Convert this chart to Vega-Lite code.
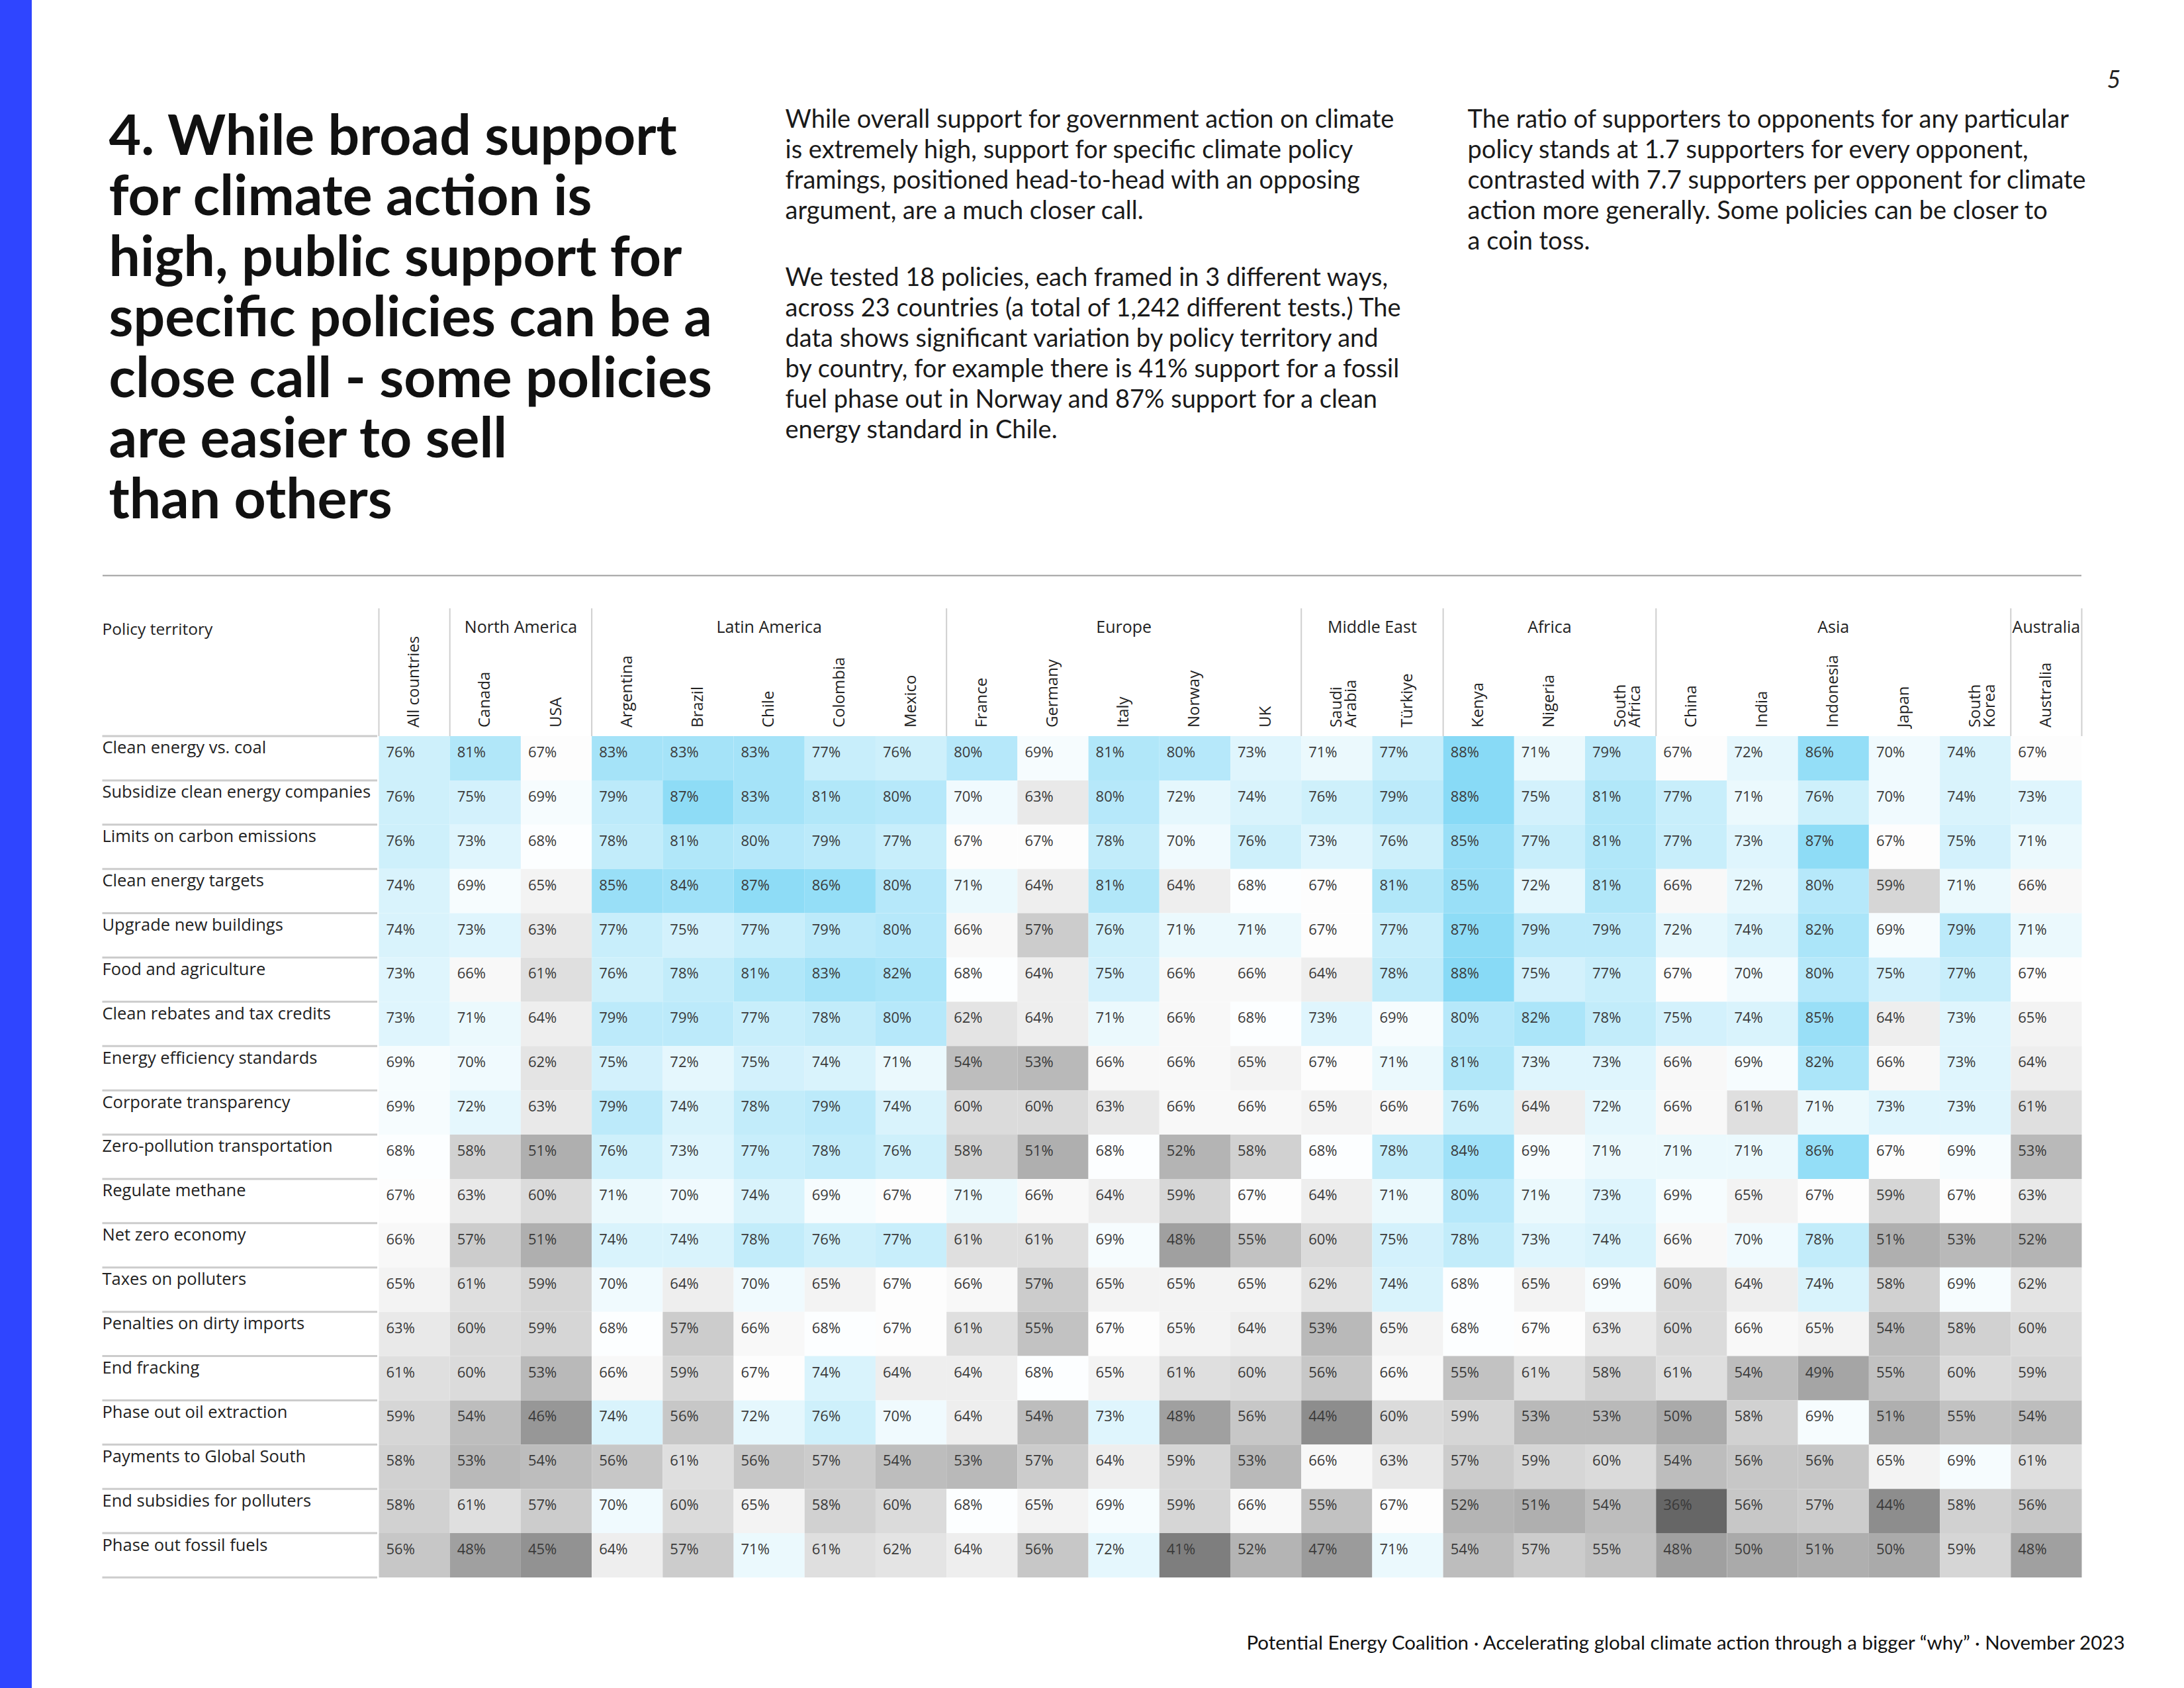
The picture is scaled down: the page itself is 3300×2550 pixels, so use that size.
{
"$schema": "https://vega.github.io/schema/vega-lite/v6.json",
"background": "white",
"padding": 0,
"autosize": {"type": "pad"},
"config": {"view": {"stroke": null}, "text": {"font": "Lato"}},
"datasets": {
"texts": [
{"block": "title", "kind": "title", "text": "4.  While broad support\nfor climate action is\nhigh, public support for\nspecific policies can be a\nclose call - some policies\nare easier to sell\nthan others"},
{"block": "body", "kind": "body", "text": "While overall support for government action on climate\nis extremely high, support for specific climate policy\nframings, positioned head-to-head with an opposing\nargument, are a much closer call."},
{"block": "body", "kind": "body2", "text": "We tested 18 policies, each framed in 3 different ways,\nacross 23 countries (a total of 1,242 different tests.) The\ndata shows significant variation by policy territory and\nby country, for example there is 41% support for a fossil\nfuel phase out in Norway and 87% support for a clean\nenergy standard in Chile."},
{"block": "ratio", "kind": "body", "text": "The ratio of supporters to opponents for any particular\npolicy stands at 1.7 supporters for every opponent,\ncontrasted with 7.7 supporters per opponent for climate\naction more generally.  Some policies can be closer to\na coin toss."},
{"block": "ratio", "kind": "page", "text": "5"}
],
"countries": [
{"country": "All countries", "label": "All countries"},
{"country": "Canada", "label": "Canada"},
{"country": "USA", "label": "USA"},
{"country": "Argentina", "label": "Argentina"},
{"country": "Brazil", "label": "Brazil"},
{"country": "Chile", "label": "Chile"},
{"country": "Colombia", "label": "Colombia"},
{"country": "Mexico", "label": "Mexico"},
{"country": "France", "label": "France"},
{"country": "Germany", "label": "Germany"},
{"country": "Italy", "label": "Italy"},
{"country": "Norway", "label": "Norway"},
{"country": "UK", "label": "UK"},
{"country": "Saudi Arabia", "label": "Saudi\nArabia"},
{"country": "Türkiye", "label": "Türkiye"},
{"country": "Kenya", "label": "Kenya"},
{"country": "Nigeria", "label": "Nigeria"},
{"country": "South Africa", "label": "South\nAfrica"},
{"country": "China", "label": "China"},
{"country": "India", "label": "India"},
{"country": "Indonesia", "label": "Indonesia"},
{"country": "Japan", "label": "Japan"},
{"country": "South Korea", "label": "South\nKorea"},
{"country": "Australia", "label": "Australia"}
],
"regions": [
{"region": "North America", "first": "Canada", "mid": "USA"},
{"region": "Latin America", "first": "Argentina", "mid": "Chile"},
{"region": "Europe", "first": "France", "mid": "Italy"},
{"region": "Middle East", "first": "Saudi Arabia", "mid": "Türkiye"},
{"region": "Africa", "first": "Kenya", "mid": "Nigeria"},
{"region": "Asia", "first": "China", "mid": "Indonesia"},
{"region": "Australia", "first": "Australia", "mid": "Australia"}
],
"policies": [
{"policy": "Clean energy vs. coal"},
{"policy": "Subsidize clean energy companies"},
{"policy": "Limits on carbon emissions"},
{"policy": "Clean energy targets"},
{"policy": "Upgrade new buildings"},
{"policy": "Food and agriculture"},
{"policy": "Clean rebates and tax credits"},
{"policy": "Energy efficiency standards"},
{"policy": "Corporate transparency"},
{"policy": "Zero-pollution transportation"},
{"policy": "Regulate methane"},
{"policy": "Net zero economy"},
{"policy": "Taxes on polluters"},
{"policy": "Penalties on dirty imports"},
{"policy": "End fracking"},
{"policy": "Phase out oil extraction"},
{"policy": "Payments to Global South"},
{"policy": "End subsidies for polluters"},
{"policy": "Phase out fossil fuels"}
],
"cells": [
{"policy":"Clean energy vs. coal","country":"All countries","value":0.76},
{"policy":"Clean energy vs. coal","country":"Canada","value":0.81},
{"policy":"Clean energy vs. coal","country":"USA","value":0.67},
{"policy":"Clean energy vs. coal","country":"Argentina","value":0.83},
{"policy":"Clean energy vs. coal","country":"Brazil","value":0.83},
{"policy":"Clean energy vs. coal","country":"Chile","value":0.83},
{"policy":"Clean energy vs. coal","country":"Colombia","value":0.77},
{"policy":"Clean energy vs. coal","country":"Mexico","value":0.76},
{"policy":"Clean energy vs. coal","country":"France","value":0.80},
{"policy":"Clean energy vs. coal","country":"Germany","value":0.69},
{"policy":"Clean energy vs. coal","country":"Italy","value":0.81},
{"policy":"Clean energy vs. coal","country":"Norway","value":0.80},
{"policy":"Clean energy vs. coal","country":"UK","value":0.73},
{"policy":"Clean energy vs. coal","country":"Saudi Arabia","value":0.71},
{"policy":"Clean energy vs. coal","country":"Türkiye","value":0.77},
{"policy":"Clean energy vs. coal","country":"Kenya","value":0.88},
{"policy":"Clean energy vs. coal","country":"Nigeria","value":0.71},
{"policy":"Clean energy vs. coal","country":"South Africa","value":0.79},
{"policy":"Clean energy vs. coal","country":"China","value":0.67},
{"policy":"Clean energy vs. coal","country":"India","value":0.72},
{"policy":"Clean energy vs. coal","country":"Indonesia","value":0.86},
{"policy":"Clean energy vs. coal","country":"Japan","value":0.70},
{"policy":"Clean energy vs. coal","country":"South Korea","value":0.74},
{"policy":"Clean energy vs. coal","country":"Australia","value":0.67},
{"policy":"Subsidize clean energy companies","country":"All countries","value":0.76},
{"policy":"Subsidize clean energy companies","country":"Canada","value":0.75},
{"policy":"Subsidize clean energy companies","country":"USA","value":0.69},
{"policy":"Subsidize clean energy companies","country":"Argentina","value":0.79},
{"policy":"Subsidize clean energy companies","country":"Brazil","value":0.87},
{"policy":"Subsidize clean energy companies","country":"Chile","value":0.83},
{"policy":"Subsidize clean energy companies","country":"Colombia","value":0.81},
{"policy":"Subsidize clean energy companies","country":"Mexico","value":0.80},
{"policy":"Subsidize clean energy companies","country":"France","value":0.70},
{"policy":"Subsidize clean energy companies","country":"Germany","value":0.63},
{"policy":"Subsidize clean energy companies","country":"Italy","value":0.80},
{"policy":"Subsidize clean energy companies","country":"Norway","value":0.72},
{"policy":"Subsidize clean energy companies","country":"UK","value":0.74},
{"policy":"Subsidize clean energy companies","country":"Saudi Arabia","value":0.76},
{"policy":"Subsidize clean energy companies","country":"Türkiye","value":0.79},
{"policy":"Subsidize clean energy companies","country":"Kenya","value":0.88},
{"policy":"Subsidize clean energy companies","country":"Nigeria","value":0.75},
{"policy":"Subsidize clean energy companies","country":"South Africa","value":0.81},
{"policy":"Subsidize clean energy companies","country":"China","value":0.77},
{"policy":"Subsidize clean energy companies","country":"India","value":0.71},
{"policy":"Subsidize clean energy companies","country":"Indonesia","value":0.76},
{"policy":"Subsidize clean energy companies","country":"Japan","value":0.70},
{"policy":"Subsidize clean energy companies","country":"South Korea","value":0.74},
{"policy":"Subsidize clean energy companies","country":"Australia","value":0.73},
{"policy":"Limits on carbon emissions","country":"All countries","value":0.76},
{"policy":"Limits on carbon emissions","country":"Canada","value":0.73},
{"policy":"Limits on carbon emissions","country":"USA","value":0.68},
{"policy":"Limits on carbon emissions","country":"Argentina","value":0.78},
{"policy":"Limits on carbon emissions","country":"Brazil","value":0.81},
{"policy":"Limits on carbon emissions","country":"Chile","value":0.80},
{"policy":"Limits on carbon emissions","country":"Colombia","value":0.79},
{"policy":"Limits on carbon emissions","country":"Mexico","value":0.77},
{"policy":"Limits on carbon emissions","country":"France","value":0.67},
{"policy":"Limits on carbon emissions","country":"Germany","value":0.67},
{"policy":"Limits on carbon emissions","country":"Italy","value":0.78},
{"policy":"Limits on carbon emissions","country":"Norway","value":0.70},
{"policy":"Limits on carbon emissions","country":"UK","value":0.76},
{"policy":"Limits on carbon emissions","country":"Saudi Arabia","value":0.73},
{"policy":"Limits on carbon emissions","country":"Türkiye","value":0.76},
{"policy":"Limits on carbon emissions","country":"Kenya","value":0.85},
{"policy":"Limits on carbon emissions","country":"Nigeria","value":0.77},
{"policy":"Limits on carbon emissions","country":"South Africa","value":0.81},
{"policy":"Limits on carbon emissions","country":"China","value":0.77},
{"policy":"Limits on carbon emissions","country":"India","value":0.73},
{"policy":"Limits on carbon emissions","country":"Indonesia","value":0.87},
{"policy":"Limits on carbon emissions","country":"Japan","value":0.67},
{"policy":"Limits on carbon emissions","country":"South Korea","value":0.75},
{"policy":"Limits on carbon emissions","country":"Australia","value":0.71},
{"policy":"Clean energy targets","country":"All countries","value":0.74},
{"policy":"Clean energy targets","country":"Canada","value":0.69},
{"policy":"Clean energy targets","country":"USA","value":0.65},
{"policy":"Clean energy targets","country":"Argentina","value":0.85},
{"policy":"Clean energy targets","country":"Brazil","value":0.84},
{"policy":"Clean energy targets","country":"Chile","value":0.87},
{"policy":"Clean energy targets","country":"Colombia","value":0.86},
{"policy":"Clean energy targets","country":"Mexico","value":0.80},
{"policy":"Clean energy targets","country":"France","value":0.71},
{"policy":"Clean energy targets","country":"Germany","value":0.64},
{"policy":"Clean energy targets","country":"Italy","value":0.81},
{"policy":"Clean energy targets","country":"Norway","value":0.64},
{"policy":"Clean energy targets","country":"UK","value":0.68},
{"policy":"Clean energy targets","country":"Saudi Arabia","value":0.67},
{"policy":"Clean energy targets","country":"Türkiye","value":0.81},
{"policy":"Clean energy targets","country":"Kenya","value":0.85},
{"policy":"Clean energy targets","country":"Nigeria","value":0.72},
{"policy":"Clean energy targets","country":"South Africa","value":0.81},
{"policy":"Clean energy targets","country":"China","value":0.66},
{"policy":"Clean energy targets","country":"India","value":0.72},
{"policy":"Clean energy targets","country":"Indonesia","value":0.80},
{"policy":"Clean energy targets","country":"Japan","value":0.59},
{"policy":"Clean energy targets","country":"South Korea","value":0.71},
{"policy":"Clean energy targets","country":"Australia","value":0.66},
{"policy":"Upgrade new buildings","country":"All countries","value":0.74},
{"policy":"Upgrade new buildings","country":"Canada","value":0.73},
{"policy":"Upgrade new buildings","country":"USA","value":0.63},
{"policy":"Upgrade new buildings","country":"Argentina","value":0.77},
{"policy":"Upgrade new buildings","country":"Brazil","value":0.75},
{"policy":"Upgrade new buildings","country":"Chile","value":0.77},
{"policy":"Upgrade new buildings","country":"Colombia","value":0.79},
{"policy":"Upgrade new buildings","country":"Mexico","value":0.80},
{"policy":"Upgrade new buildings","country":"France","value":0.66},
{"policy":"Upgrade new buildings","country":"Germany","value":0.57},
{"policy":"Upgrade new buildings","country":"Italy","value":0.76},
{"policy":"Upgrade new buildings","country":"Norway","value":0.71},
{"policy":"Upgrade new buildings","country":"UK","value":0.71},
{"policy":"Upgrade new buildings","country":"Saudi Arabia","value":0.67},
{"policy":"Upgrade new buildings","country":"Türkiye","value":0.77},
{"policy":"Upgrade new buildings","country":"Kenya","value":0.87},
{"policy":"Upgrade new buildings","country":"Nigeria","value":0.79},
{"policy":"Upgrade new buildings","country":"South Africa","value":0.79},
{"policy":"Upgrade new buildings","country":"China","value":0.72},
{"policy":"Upgrade new buildings","country":"India","value":0.74},
{"policy":"Upgrade new buildings","country":"Indonesia","value":0.82},
{"policy":"Upgrade new buildings","country":"Japan","value":0.69},
{"policy":"Upgrade new buildings","country":"South Korea","value":0.79},
{"policy":"Upgrade new buildings","country":"Australia","value":0.71},
{"policy":"Food and agriculture","country":"All countries","value":0.73},
{"policy":"Food and agriculture","country":"Canada","value":0.66},
{"policy":"Food and agriculture","country":"USA","value":0.61},
{"policy":"Food and agriculture","country":"Argentina","value":0.76},
{"policy":"Food and agriculture","country":"Brazil","value":0.78},
{"policy":"Food and agriculture","country":"Chile","value":0.81},
{"policy":"Food and agriculture","country":"Colombia","value":0.83},
{"policy":"Food and agriculture","country":"Mexico","value":0.82},
{"policy":"Food and agriculture","country":"France","value":0.68},
{"policy":"Food and agriculture","country":"Germany","value":0.64},
{"policy":"Food and agriculture","country":"Italy","value":0.75},
{"policy":"Food and agriculture","country":"Norway","value":0.66},
{"policy":"Food and agriculture","country":"UK","value":0.66},
{"policy":"Food and agriculture","country":"Saudi Arabia","value":0.64},
{"policy":"Food and agriculture","country":"Türkiye","value":0.78},
{"policy":"Food and agriculture","country":"Kenya","value":0.88},
{"policy":"Food and agriculture","country":"Nigeria","value":0.75},
{"policy":"Food and agriculture","country":"South Africa","value":0.77},
{"policy":"Food and agriculture","country":"China","value":0.67},
{"policy":"Food and agriculture","country":"India","value":0.70},
{"policy":"Food and agriculture","country":"Indonesia","value":0.80},
{"policy":"Food and agriculture","country":"Japan","value":0.75},
{"policy":"Food and agriculture","country":"South Korea","value":0.77},
{"policy":"Food and agriculture","country":"Australia","value":0.67},
{"policy":"Clean rebates and tax credits","country":"All countries","value":0.73},
{"policy":"Clean rebates and tax credits","country":"Canada","value":0.71},
{"policy":"Clean rebates and tax credits","country":"USA","value":0.64},
{"policy":"Clean rebates and tax credits","country":"Argentina","value":0.79},
{"policy":"Clean rebates and tax credits","country":"Brazil","value":0.79},
{"policy":"Clean rebates and tax credits","country":"Chile","value":0.77},
{"policy":"Clean rebates and tax credits","country":"Colombia","value":0.78},
{"policy":"Clean rebates and tax credits","country":"Mexico","value":0.80},
{"policy":"Clean rebates and tax credits","country":"France","value":0.62},
{"policy":"Clean rebates and tax credits","country":"Germany","value":0.64},
{"policy":"Clean rebates and tax credits","country":"Italy","value":0.71},
{"policy":"Clean rebates and tax credits","country":"Norway","value":0.66},
{"policy":"Clean rebates and tax credits","country":"UK","value":0.68},
{"policy":"Clean rebates and tax credits","country":"Saudi Arabia","value":0.73},
{"policy":"Clean rebates and tax credits","country":"Türkiye","value":0.69},
{"policy":"Clean rebates and tax credits","country":"Kenya","value":0.80},
{"policy":"Clean rebates and tax credits","country":"Nigeria","value":0.82},
{"policy":"Clean rebates and tax credits","country":"South Africa","value":0.78},
{"policy":"Clean rebates and tax credits","country":"China","value":0.75},
{"policy":"Clean rebates and tax credits","country":"India","value":0.74},
{"policy":"Clean rebates and tax credits","country":"Indonesia","value":0.85},
{"policy":"Clean rebates and tax credits","country":"Japan","value":0.64},
{"policy":"Clean rebates and tax credits","country":"South Korea","value":0.73},
{"policy":"Clean rebates and tax credits","country":"Australia","value":0.65},
{"policy":"Energy efficiency standards","country":"All countries","value":0.69},
{"policy":"Energy efficiency standards","country":"Canada","value":0.70},
{"policy":"Energy efficiency standards","country":"USA","value":0.62},
{"policy":"Energy efficiency standards","country":"Argentina","value":0.75},
{"policy":"Energy efficiency standards","country":"Brazil","value":0.72},
{"policy":"Energy efficiency standards","country":"Chile","value":0.75},
{"policy":"Energy efficiency standards","country":"Colombia","value":0.74},
{"policy":"Energy efficiency standards","country":"Mexico","value":0.71},
{"policy":"Energy efficiency standards","country":"France","value":0.54},
{"policy":"Energy efficiency standards","country":"Germany","value":0.53},
{"policy":"Energy efficiency standards","country":"Italy","value":0.66},
{"policy":"Energy efficiency standards","country":"Norway","value":0.66},
{"policy":"Energy efficiency standards","country":"UK","value":0.65},
{"policy":"Energy efficiency standards","country":"Saudi Arabia","value":0.67},
{"policy":"Energy efficiency standards","country":"Türkiye","value":0.71},
{"policy":"Energy efficiency standards","country":"Kenya","value":0.81},
{"policy":"Energy efficiency standards","country":"Nigeria","value":0.73},
{"policy":"Energy efficiency standards","country":"South Africa","value":0.73},
{"policy":"Energy efficiency standards","country":"China","value":0.66},
{"policy":"Energy efficiency standards","country":"India","value":0.69},
{"policy":"Energy efficiency standards","country":"Indonesia","value":0.82},
{"policy":"Energy efficiency standards","country":"Japan","value":0.66},
{"policy":"Energy efficiency standards","country":"South Korea","value":0.73},
{"policy":"Energy efficiency standards","country":"Australia","value":0.64},
{"policy":"Corporate transparency","country":"All countries","value":0.69},
{"policy":"Corporate transparency","country":"Canada","value":0.72},
{"policy":"Corporate transparency","country":"USA","value":0.63},
{"policy":"Corporate transparency","country":"Argentina","value":0.79},
{"policy":"Corporate transparency","country":"Brazil","value":0.74},
{"policy":"Corporate transparency","country":"Chile","value":0.78},
{"policy":"Corporate transparency","country":"Colombia","value":0.79},
{"policy":"Corporate transparency","country":"Mexico","value":0.74},
{"policy":"Corporate transparency","country":"France","value":0.60},
{"policy":"Corporate transparency","country":"Germany","value":0.60},
{"policy":"Corporate transparency","country":"Italy","value":0.63},
{"policy":"Corporate transparency","country":"Norway","value":0.66},
{"policy":"Corporate transparency","country":"UK","value":0.66},
{"policy":"Corporate transparency","country":"Saudi Arabia","value":0.65},
{"policy":"Corporate transparency","country":"Türkiye","value":0.66},
{"policy":"Corporate transparency","country":"Kenya","value":0.76},
{"policy":"Corporate transparency","country":"Nigeria","value":0.64},
{"policy":"Corporate transparency","country":"South Africa","value":0.72},
{"policy":"Corporate transparency","country":"China","value":0.66},
{"policy":"Corporate transparency","country":"India","value":0.61},
{"policy":"Corporate transparency","country":"Indonesia","value":0.71},
{"policy":"Corporate transparency","country":"Japan","value":0.73},
{"policy":"Corporate transparency","country":"South Korea","value":0.73},
{"policy":"Corporate transparency","country":"Australia","value":0.61},
{"policy":"Zero-pollution transportation","country":"All countries","value":0.68},
{"policy":"Zero-pollution transportation","country":"Canada","value":0.58},
{"policy":"Zero-pollution transportation","country":"USA","value":0.51},
{"policy":"Zero-pollution transportation","country":"Argentina","value":0.76},
{"policy":"Zero-pollution transportation","country":"Brazil","value":0.73},
{"policy":"Zero-pollution transportation","country":"Chile","value":0.77},
{"policy":"Zero-pollution transportation","country":"Colombia","value":0.78},
{"policy":"Zero-pollution transportation","country":"Mexico","value":0.76},
{"policy":"Zero-pollution transportation","country":"France","value":0.58},
{"policy":"Zero-pollution transportation","country":"Germany","value":0.51},
{"policy":"Zero-pollution transportation","country":"Italy","value":0.68},
{"policy":"Zero-pollution transportation","country":"Norway","value":0.52},
{"policy":"Zero-pollution transportation","country":"UK","value":0.58},
{"policy":"Zero-pollution transportation","country":"Saudi Arabia","value":0.68},
{"policy":"Zero-pollution transportation","country":"Türkiye","value":0.78},
{"policy":"Zero-pollution transportation","country":"Kenya","value":0.84},
{"policy":"Zero-pollution transportation","country":"Nigeria","value":0.69},
{"policy":"Zero-pollution transportation","country":"South Africa","value":0.71},
{"policy":"Zero-pollution transportation","country":"China","value":0.71},
{"policy":"Zero-pollution transportation","country":"India","value":0.71},
{"policy":"Zero-pollution transportation","country":"Indonesia","value":0.86},
{"policy":"Zero-pollution transportation","country":"Japan","value":0.67},
{"policy":"Zero-pollution transportation","country":"South Korea","value":0.69},
{"policy":"Zero-pollution transportation","country":"Australia","value":0.53},
{"policy":"Regulate methane","country":"All countries","value":0.67},
{"policy":"Regulate methane","country":"Canada","value":0.63},
{"policy":"Regulate methane","country":"USA","value":0.60},
{"policy":"Regulate methane","country":"Argentina","value":0.71},
{"policy":"Regulate methane","country":"Brazil","value":0.70},
{"policy":"Regulate methane","country":"Chile","value":0.74},
{"policy":"Regulate methane","country":"Colombia","value":0.69},
{"policy":"Regulate methane","country":"Mexico","value":0.67},
{"policy":"Regulate methane","country":"France","value":0.71},
{"policy":"Regulate methane","country":"Germany","value":0.66},
{"policy":"Regulate methane","country":"Italy","value":0.64},
{"policy":"Regulate methane","country":"Norway","value":0.59},
{"policy":"Regulate methane","country":"UK","value":0.67},
{"policy":"Regulate methane","country":"Saudi Arabia","value":0.64},
{"policy":"Regulate methane","country":"Türkiye","value":0.71},
{"policy":"Regulate methane","country":"Kenya","value":0.80},
{"policy":"Regulate methane","country":"Nigeria","value":0.71},
{"policy":"Regulate methane","country":"South Africa","value":0.73},
{"policy":"Regulate methane","country":"China","value":0.69},
{"policy":"Regulate methane","country":"India","value":0.65},
{"policy":"Regulate methane","country":"Indonesia","value":0.67},
{"policy":"Regulate methane","country":"Japan","value":0.59},
{"policy":"Regulate methane","country":"South Korea","value":0.67},
{"policy":"Regulate methane","country":"Australia","value":0.63},
{"policy":"Net zero economy","country":"All countries","value":0.66},
{"policy":"Net zero economy","country":"Canada","value":0.57},
{"policy":"Net zero economy","country":"USA","value":0.51},
{"policy":"Net zero economy","country":"Argentina","value":0.74},
{"policy":"Net zero economy","country":"Brazil","value":0.74},
{"policy":"Net zero economy","country":"Chile","value":0.78},
{"policy":"Net zero economy","country":"Colombia","value":0.76},
{"policy":"Net zero economy","country":"Mexico","value":0.77},
{"policy":"Net zero economy","country":"France","value":0.61},
{"policy":"Net zero economy","country":"Germany","value":0.61},
{"policy":"Net zero economy","country":"Italy","value":0.69},
{"policy":"Net zero economy","country":"Norway","value":0.48},
{"policy":"Net zero economy","country":"UK","value":0.55},
{"policy":"Net zero economy","country":"Saudi Arabia","value":0.60},
{"policy":"Net zero economy","country":"Türkiye","value":0.75},
{"policy":"Net zero economy","country":"Kenya","value":0.78},
{"policy":"Net zero economy","country":"Nigeria","value":0.73},
{"policy":"Net zero economy","country":"South Africa","value":0.74},
{"policy":"Net zero economy","country":"China","value":0.66},
{"policy":"Net zero economy","country":"India","value":0.70},
{"policy":"Net zero economy","country":"Indonesia","value":0.78},
{"policy":"Net zero economy","country":"Japan","value":0.51},
{"policy":"Net zero economy","country":"South Korea","value":0.53},
{"policy":"Net zero economy","country":"Australia","value":0.52},
{"policy":"Taxes on polluters","country":"All countries","value":0.65},
{"policy":"Taxes on polluters","country":"Canada","value":0.61},
{"policy":"Taxes on polluters","country":"USA","value":0.59},
{"policy":"Taxes on polluters","country":"Argentina","value":0.70},
{"policy":"Taxes on polluters","country":"Brazil","value":0.64},
{"policy":"Taxes on polluters","country":"Chile","value":0.70},
{"policy":"Taxes on polluters","country":"Colombia","value":0.65},
{"policy":"Taxes on polluters","country":"Mexico","value":0.67},
{"policy":"Taxes on polluters","country":"France","value":0.66},
{"policy":"Taxes on polluters","country":"Germany","value":0.57},
{"policy":"Taxes on polluters","country":"Italy","value":0.65},
{"policy":"Taxes on polluters","country":"Norway","value":0.65},
{"policy":"Taxes on polluters","country":"UK","value":0.65},
{"policy":"Taxes on polluters","country":"Saudi Arabia","value":0.62},
{"policy":"Taxes on polluters","country":"Türkiye","value":0.74},
{"policy":"Taxes on polluters","country":"Kenya","value":0.68},
{"policy":"Taxes on polluters","country":"Nigeria","value":0.65},
{"policy":"Taxes on polluters","country":"South Africa","value":0.69},
{"policy":"Taxes on polluters","country":"China","value":0.60},
{"policy":"Taxes on polluters","country":"India","value":0.64},
{"policy":"Taxes on polluters","country":"Indonesia","value":0.74},
{"policy":"Taxes on polluters","country":"Japan","value":0.58},
{"policy":"Taxes on polluters","country":"South Korea","value":0.69},
{"policy":"Taxes on polluters","country":"Australia","value":0.62},
{"policy":"Penalties on dirty imports","country":"All countries","value":0.63},
{"policy":"Penalties on dirty imports","country":"Canada","value":0.60},
{"policy":"Penalties on dirty imports","country":"USA","value":0.59},
{"policy":"Penalties on dirty imports","country":"Argentina","value":0.68},
{"policy":"Penalties on dirty imports","country":"Brazil","value":0.57},
{"policy":"Penalties on dirty imports","country":"Chile","value":0.66},
{"policy":"Penalties on dirty imports","country":"Colombia","value":0.68},
{"policy":"Penalties on dirty imports","country":"Mexico","value":0.67},
{"policy":"Penalties on dirty imports","country":"France","value":0.61},
{"policy":"Penalties on dirty imports","country":"Germany","value":0.55},
{"policy":"Penalties on dirty imports","country":"Italy","value":0.67},
{"policy":"Penalties on dirty imports","country":"Norway","value":0.65},
{"policy":"Penalties on dirty imports","country":"UK","value":0.64},
{"policy":"Penalties on dirty imports","country":"Saudi Arabia","value":0.53},
{"policy":"Penalties on dirty imports","country":"Türkiye","value":0.65},
{"policy":"Penalties on dirty imports","country":"Kenya","value":0.68},
{"policy":"Penalties on dirty imports","country":"Nigeria","value":0.67},
{"policy":"Penalties on dirty imports","country":"South Africa","value":0.63},
{"policy":"Penalties on dirty imports","country":"China","value":0.60},
{"policy":"Penalties on dirty imports","country":"India","value":0.66},
{"policy":"Penalties on dirty imports","country":"Indonesia","value":0.65},
{"policy":"Penalties on dirty imports","country":"Japan","value":0.54},
{"policy":"Penalties on dirty imports","country":"South Korea","value":0.58},
{"policy":"Penalties on dirty imports","country":"Australia","value":0.60},
{"policy":"End fracking","country":"All countries","value":0.61},
{"policy":"End fracking","country":"Canada","value":0.60},
{"policy":"End fracking","country":"USA","value":0.53},
{"policy":"End fracking","country":"Argentina","value":0.66},
{"policy":"End fracking","country":"Brazil","value":0.59},
{"policy":"End fracking","country":"Chile","value":0.67},
{"policy":"End fracking","country":"Colombia","value":0.74},
{"policy":"End fracking","country":"Mexico","value":0.64},
{"policy":"End fracking","country":"France","value":0.64},
{"policy":"End fracking","country":"Germany","value":0.68},
{"policy":"End fracking","country":"Italy","value":0.65},
{"policy":"End fracking","country":"Norway","value":0.61},
{"policy":"End fracking","country":"UK","value":0.60},
{"policy":"End fracking","country":"Saudi Arabia","value":0.56},
{"policy":"End fracking","country":"Türkiye","value":0.66},
{"policy":"End fracking","country":"Kenya","value":0.55},
{"policy":"End fracking","country":"Nigeria","value":0.61},
{"policy":"End fracking","country":"South Africa","value":0.58},
{"policy":"End fracking","country":"China","value":0.61},
{"policy":"End fracking","country":"India","value":0.54},
{"policy":"End fracking","country":"Indonesia","value":0.49},
{"policy":"End fracking","country":"Japan","value":0.55},
{"policy":"End fracking","country":"South Korea","value":0.60},
{"policy":"End fracking","country":"Australia","value":0.59},
{"policy":"Phase out oil extraction","country":"All countries","value":0.59},
{"policy":"Phase out oil extraction","country":"Canada","value":0.54},
{"policy":"Phase out oil extraction","country":"USA","value":0.46},
{"policy":"Phase out oil extraction","country":"Argentina","value":0.74},
{"policy":"Phase out oil extraction","country":"Brazil","value":0.56},
{"policy":"Phase out oil extraction","country":"Chile","value":0.72},
{"policy":"Phase out oil extraction","country":"Colombia","value":0.76},
{"policy":"Phase out oil extraction","country":"Mexico","value":0.70},
{"policy":"Phase out oil extraction","country":"France","value":0.64},
{"policy":"Phase out oil extraction","country":"Germany","value":0.54},
{"policy":"Phase out oil extraction","country":"Italy","value":0.73},
{"policy":"Phase out oil extraction","country":"Norway","value":0.48},
{"policy":"Phase out oil extraction","country":"UK","value":0.56},
{"policy":"Phase out oil extraction","country":"Saudi Arabia","value":0.44},
{"policy":"Phase out oil extraction","country":"Türkiye","value":0.60},
{"policy":"Phase out oil extraction","country":"Kenya","value":0.59},
{"policy":"Phase out oil extraction","country":"Nigeria","value":0.53},
{"policy":"Phase out oil extraction","country":"South Africa","value":0.53},
{"policy":"Phase out oil extraction","country":"China","value":0.50},
{"policy":"Phase out oil extraction","country":"India","value":0.58},
{"policy":"Phase out oil extraction","country":"Indonesia","value":0.69},
{"policy":"Phase out oil extraction","country":"Japan","value":0.51},
{"policy":"Phase out oil extraction","country":"South Korea","value":0.55},
{"policy":"Phase out oil extraction","country":"Australia","value":0.54},
{"policy":"Payments to Global South","country":"All countries","value":0.58},
{"policy":"Payments to Global South","country":"Canada","value":0.53},
{"policy":"Payments to Global South","country":"USA","value":0.54},
{"policy":"Payments to Global South","country":"Argentina","value":0.56},
{"policy":"Payments to Global South","country":"Brazil","value":0.61},
{"policy":"Payments to Global South","country":"Chile","value":0.56},
{"policy":"Payments to Global South","country":"Colombia","value":0.57},
{"policy":"Payments to Global South","country":"Mexico","value":0.54},
{"policy":"Payments to Global South","country":"France","value":0.53},
{"policy":"Payments to Global South","country":"Germany","value":0.57},
{"policy":"Payments to Global South","country":"Italy","value":0.64},
{"policy":"Payments to Global South","country":"Norway","value":0.59},
{"policy":"Payments to Global South","country":"UK","value":0.53},
{"policy":"Payments to Global South","country":"Saudi Arabia","value":0.66},
{"policy":"Payments to Global South","country":"Türkiye","value":0.63},
{"policy":"Payments to Global South","country":"Kenya","value":0.57},
{"policy":"Payments to Global South","country":"Nigeria","value":0.59},
{"policy":"Payments to Global South","country":"South Africa","value":0.60},
{"policy":"Payments to Global South","country":"China","value":0.54},
{"policy":"Payments to Global South","country":"India","value":0.56},
{"policy":"Payments to Global South","country":"Indonesia","value":0.56},
{"policy":"Payments to Global South","country":"Japan","value":0.65},
{"policy":"Payments to Global South","country":"South Korea","value":0.69},
{"policy":"Payments to Global South","country":"Australia","value":0.61},
{"policy":"End subsidies for polluters","country":"All countries","value":0.58},
{"policy":"End subsidies for polluters","country":"Canada","value":0.61},
{"policy":"End subsidies for polluters","country":"USA","value":0.57},
{"policy":"End subsidies for polluters","country":"Argentina","value":0.70},
{"policy":"End subsidies for polluters","country":"Brazil","value":0.60},
{"policy":"End subsidies for polluters","country":"Chile","value":0.65},
{"policy":"End subsidies for polluters","country":"Colombia","value":0.58},
{"policy":"End subsidies for polluters","country":"Mexico","value":0.60},
{"policy":"End subsidies for polluters","country":"France","value":0.68},
{"policy":"End subsidies for polluters","country":"Germany","value":0.65},
{"policy":"End subsidies for polluters","country":"Italy","value":0.69},
{"policy":"End subsidies for polluters","country":"Norway","value":0.59},
{"policy":"End subsidies for polluters","country":"UK","value":0.66},
{"policy":"End subsidies for polluters","country":"Saudi Arabia","value":0.55},
{"policy":"End subsidies for polluters","country":"Türkiye","value":0.67},
{"policy":"End subsidies for polluters","country":"Kenya","value":0.52},
{"policy":"End subsidies for polluters","country":"Nigeria","value":0.51},
{"policy":"End subsidies for polluters","country":"South Africa","value":0.54},
{"policy":"End subsidies for polluters","country":"China","value":0.36},
{"policy":"End subsidies for polluters","country":"India","value":0.56},
{"policy":"End subsidies for polluters","country":"Indonesia","value":0.57},
{"policy":"End subsidies for polluters","country":"Japan","value":0.44},
{"policy":"End subsidies for polluters","country":"South Korea","value":0.58},
{"policy":"End subsidies for polluters","country":"Australia","value":0.56},
{"policy":"Phase out fossil fuels","country":"All countries","value":0.56},
{"policy":"Phase out fossil fuels","country":"Canada","value":0.48},
{"policy":"Phase out fossil fuels","country":"USA","value":0.45},
{"policy":"Phase out fossil fuels","country":"Argentina","value":0.64},
{"policy":"Phase out fossil fuels","country":"Brazil","value":0.57},
{"policy":"Phase out fossil fuels","country":"Chile","value":0.71},
{"policy":"Phase out fossil fuels","country":"Colombia","value":0.61},
{"policy":"Phase out fossil fuels","country":"Mexico","value":0.62},
{"policy":"Phase out fossil fuels","country":"France","value":0.64},
{"policy":"Phase out fossil fuels","country":"Germany","value":0.56},
{"policy":"Phase out fossil fuels","country":"Italy","value":0.72},
{"policy":"Phase out fossil fuels","country":"Norway","value":0.41},
{"policy":"Phase out fossil fuels","country":"UK","value":0.52},
{"policy":"Phase out fossil fuels","country":"Saudi Arabia","value":0.47},
{"policy":"Phase out fossil fuels","country":"Türkiye","value":0.71},
{"policy":"Phase out fossil fuels","country":"Kenya","value":0.54},
{"policy":"Phase out fossil fuels","country":"Nigeria","value":0.57},
{"policy":"Phase out fossil fuels","country":"South Africa","value":0.55},
{"policy":"Phase out fossil fuels","country":"China","value":0.48},
{"policy":"Phase out fossil fuels","country":"India","value":0.50},
{"policy":"Phase out fossil fuels","country":"Indonesia","value":0.51},
{"policy":"Phase out fossil fuels","country":"Japan","value":0.50},
{"policy":"Phase out fossil fuels","country":"South Korea","value":0.59},
{"policy":"Phase out fossil fuels","country":"Australia","value":0.48}
]
},
"hconcat": [
{
"width": 48, "height": 2550,
"view": {"fill": "#2f45ff", "stroke": null},
"data": {"values": [{"band": "edge"}]},
"mark": {"type": "rect", "color": "#2f45ff"},
"encoding": {}
},
{
"vconcat": [
{
"width": 2990, "height": 869,
"data": {"name": "texts"},
"layer": [
{
"transform": [{"filter": "datum.kind === 'title'"}],
"mark": {"type": "text", "align": "left", "baseline": "top", "font": "Lato", "fontSize": 84, "fontWeight": "bold", "lineBreak": "\n", "lineHeight": 91.5, "color": "#111111", "dx": 10},
"encoding": {
"x": {"field": "block", "type": "nominal", "bandPosition": 0, "scale": {"type": "band", "domain": ["title", "body", "ratio"], "paddingInner": 0.1, "paddingOuter": 0, "align": 0}, "axis": {"title": null, "labels": false, "ticks": false, "grid": false, "domain": true, "domainColor": "#9e9e9e", "domainWidth": 2}},
"y": {"datum": 0.807, "type": "quantitative", "scale": {"domain": [0, 1], "nice": false, "zero": false}, "axis": null},
"text": {"field": "text", "type": "nominal"}
}
},
{
"transform": [{"filter": "datum.kind === 'body'"}],
"mark": {"type": "text", "align": "left", "baseline": "top", "font": "Lato", "fontSize": 38, "lineBreak": "\n", "lineHeight": 46, "color": "#1a1a1a", "dx": 1},
"encoding": {
"x": {"field": "block", "type": "nominal", "bandPosition": 0, "scale": {"type": "band", "domain": ["title", "body", "ratio"], "paddingInner": 0.1, "paddingOuter": 0, "align": 0}, "axis": {"title": null, "labels": false, "ticks": false, "grid": false, "domain": true, "domainColor": "#9e9e9e", "domainWidth": 2}},
"y": {"datum": 0.812, "type": "quantitative", "scale": {"domain": [0, 1], "nice": false, "zero": false}, "axis": null},
"text": {"field": "text", "type": "nominal"}
}
},
{
"transform": [{"filter": "datum.kind === 'body2'"}],
"mark": {"type": "text", "align": "left", "baseline": "top", "font": "Lato", "fontSize": 38, "lineBreak": "\n", "lineHeight": 46, "color": "#1a1a1a", "dx": 1},
"encoding": {
"x": {"field": "block", "type": "nominal", "bandPosition": 0, "scale": {"type": "band", "domain": ["title", "body", "ratio"], "paddingInner": 0.1, "paddingOuter": 0, "align": 0}, "axis": {"title": null, "labels": false, "ticks": false, "grid": false, "domain": true, "domainColor": "#9e9e9e", "domainWidth": 2}},
"y": {"datum": 0.537, "type": "quantitative", "scale": {"domain": [0, 1], "nice": false, "zero": false}, "axis": null},
"text": {"field": "text", "type": "nominal"}
}
},
{
"transform": [{"filter": "datum.kind === 'page'"}],
"mark": {"type": "text", "align": "right", "baseline": "middle", "font": "Lato", "fontSize": 36, "fontStyle": "italic", "color": "#222222", "dx": 60},
"encoding": {
"x": {"field": "block", "type": "nominal", "bandPosition": 1, "scale": {"type": "band", "domain": ["title", "body", "ratio"], "paddingInner": 0.1, "paddingOuter": 0, "align": 0}, "axis": {"title": null, "labels": false, "ticks": false, "grid": false, "domain": true, "domainColor": "#9e9e9e", "domainWidth": 2}},
"y": {"datum": 0.86, "type": "quantitative", "scale": {"domain": [0, 1], "nice": false, "zero": false}, "axis": null},
"text": {"field": "text", "type": "nominal"}
}
}
]
},
{
"hconcat": [
{
"vconcat": [
{
"width": 415.5, "height": 193,
"data": {"values": [{"text": "Policy territory"}]},
"mark": {"type": "text", "align": "left", "baseline": "middle", "font": "Open Sans", "fontSize": 24.5, "color": "#222222"},
"encoding": {
"x": {"datum": 0, "type": "quantitative", "scale": {"domain": [0, 1], "nice": false, "zero": false}, "axis": null},
"y": {"datum": 0.829, "type": "quantitative", "scale": {"domain": [0, 1], "nice": false, "zero": false}, "axis": null},
"text": {"field": "text", "type": "nominal"}
}
},
{
"width": 415.5, "height": 1271,
"data": {"name": "policies"},
"layer": [
{
"mark": {"type": "rule", "color": "#cccccc", "strokeWidth": 3},
"encoding": {
"y": {"field": "policy", "type": "nominal", "bandPosition": 0, "scale": {"type": "band", "domain": ["Clean energy vs. coal","Subsidize clean energy companies","Limits on carbon emissions","Clean energy targets","Upgrade new buildings","Food and agriculture","Clean rebates and tax credits","Energy efficiency standards","Corporate transparency","Zero-pollution transportation","Regulate methane","Net zero economy","Taxes on polluters","Penalties on dirty imports","End fracking","Phase out oil extraction","Payments to Global South","End subsidies for polluters","Phase out fossil fuels"], "paddingInner": 0, "paddingOuter": 0}, "axis": null}
}
},
{
"transform": [{"filter": "datum.policy === 'Phase out fossil fuels'"}],
"mark": {"type": "rule", "color": "#cccccc", "strokeWidth": 3},
"encoding": {
"y": {"field": "policy", "type": "nominal", "bandPosition": 1, "scale": {"type": "band", "domain": ["Clean energy vs. coal","Subsidize clean energy companies","Limits on carbon emissions","Clean energy targets","Upgrade new buildings","Food and agriculture","Clean rebates and tax credits","Energy efficiency standards","Corporate transparency","Zero-pollution transportation","Regulate methane","Net zero economy","Taxes on polluters","Penalties on dirty imports","End fracking","Phase out oil extraction","Payments to Global South","End subsidies for polluters","Phase out fossil fuels"], "paddingInner": 0, "paddingOuter": 0}, "axis": null}
}
},
{
"mark": {"type": "text", "align": "left", "baseline": "middle", "font": "Open Sans", "fontSize": 25.5, "color": "#222222"},
"encoding": {
"x": {"datum": 0, "type": "quantitative", "scale": {"domain": [0, 1], "nice": false, "zero": false}, "axis": null},
"y": {"field": "policy", "type": "nominal", "bandPosition": 0.275, "scale": {"type": "band", "domain": ["Clean energy vs. coal","Subsidize clean energy companies","Limits on carbon emissions","Clean energy targets","Upgrade new buildings","Food and agriculture","Clean rebates and tax credits","Energy efficiency standards","Corporate transparency","Zero-pollution transportation","Regulate methane","Net zero economy","Taxes on polluters","Penalties on dirty imports","End fracking","Phase out oil extraction","Payments to Global South","End subsidies for polluters","Phase out fossil fuels"], "paddingInner": 0, "paddingOuter": 0}, "axis": null},
"text": {"field": "policy", "type": "nominal"}
}
}
]
}
],
"spacing": 0,
"bounds": "flush"
},
{
"vconcat": [
{
"width": 2573, "height": 193,
"layer": [
{
"data": {"name": "regions"},
"mark": {"type": "rule", "color": "#cfcfcf", "strokeWidth": 2},
"encoding": {
"x": {"field": "first", "type": "nominal", "bandPosition": 0, "scale": {"type": "band", "domain": ["All countries","Canada","USA","Argentina","Brazil","Chile","Colombia","Mexico","France","Germany","Italy","Norway","UK","Saudi Arabia","Türkiye","Kenya","Nigeria","South Africa","China","India","Indonesia","Japan","South Korea","Australia"], "paddingInner": 0, "paddingOuter": 0}, "axis": null}
}
},
{
"data": {"name": "countries"},
"transform": [{"filter": "datum.country === 'All countries'"}],
"mark": {"type": "rule", "color": "#cfcfcf", "strokeWidth": 2},
"encoding": {
"x": {"field": "country", "type": "nominal", "bandPosition": 0, "scale": {"type": "band", "domain": ["All countries","Canada","USA","Argentina","Brazil","Chile","Colombia","Mexico","France","Germany","Italy","Norway","UK","Saudi Arabia","Türkiye","Kenya","Nigeria","South Africa","China","India","Indonesia","Japan","South Korea","Australia"], "paddingInner": 0, "paddingOuter": 0}, "axis": null}
}
},
{
"data": {"name": "countries"},
"transform": [{"filter": "datum.country === 'Australia'"}],
"mark": {"type": "rule", "color": "#cfcfcf", "strokeWidth": 2},
"encoding": {
"x": {"field": "country", "type": "nominal", "bandPosition": 1, "scale": {"type": "band", "domain": ["All countries","Canada","USA","Argentina","Brazil","Chile","Colombia","Mexico","France","Germany","Italy","Norway","UK","Saudi Arabia","Türkiye","Kenya","Nigeria","South Africa","China","India","Indonesia","Japan","South Korea","Australia"], "paddingInner": 0, "paddingOuter": 0}, "axis": null}
}
},
{
"data": {"name": "regions"},
"transform": [{"filter": "datum.region === 'North America' || datum.region === 'Middle East'"}],
"mark": {"type": "text", "align": "center", "baseline": "middle", "font": "Open Sans", "fontSize": 25, "color": "#222222"},
"encoding": {
"x": {"field": "mid", "type": "nominal", "bandPosition": 0, "scale": {"type": "band", "domain": ["All countries","Canada","USA","Argentina","Brazil","Chile","Colombia","Mexico","France","Germany","Italy","Norway","UK","Saudi Arabia","Türkiye","Kenya","Nigeria","South Africa","China","India","Indonesia","Japan","South Korea","Australia"], "paddingInner": 0, "paddingOuter": 0}, "axis": null},
"y": {"datum": 0.85, "type": "quantitative", "scale": {"domain": [0, 1], "nice": false, "zero": false}, "axis": null},
"text": {"field": "region", "type": "nominal"}
}
},
{
"data": {"name": "regions"},
"transform": [{"filter": "datum.region !== 'North America' && datum.region !== 'Middle East'"}],
"mark": {"type": "text", "align": "center", "baseline": "middle", "font": "Open Sans", "fontSize": 25, "color": "#222222"},
"encoding": {
"x": {"field": "mid", "type": "nominal", "bandPosition": 0.5, "scale": {"type": "band", "domain": ["All countries","Canada","USA","Argentina","Brazil","Chile","Colombia","Mexico","France","Germany","Italy","Norway","UK","Saudi Arabia","Türkiye","Kenya","Nigeria","South Africa","China","India","Indonesia","Japan","South Korea","Australia"], "paddingInner": 0, "paddingOuter": 0}, "axis": null},
"y": {"datum": 0.85, "type": "quantitative", "scale": {"domain": [0, 1], "nice": false, "zero": false}, "axis": null},
"text": {"field": "region", "type": "nominal"}
}
},
{
"data": {"name": "countries"},
"mark": {"type": "text", "align": "left", "baseline": "middle", "angle": 270, "font": "Open Sans", "fontSize": 24, "lineBreak": "\n", "lineHeight": 22, "color": "#222222"},
"encoding": {
"x": {"field": "country", "type": "nominal", "bandPosition": 0.5, "scale": {"type": "band", "domain": ["All countries","Canada","USA","Argentina","Brazil","Chile","Colombia","Mexico","France","Germany","Italy","Norway","UK","Saudi Arabia","Türkiye","Kenya","Nigeria","South Africa","China","India","Indonesia","Japan","South Korea","Australia"], "paddingInner": 0, "paddingOuter": 0}, "axis": null},
"y": {"datum": 0.067, "type": "quantitative", "scale": {"domain": [0, 1], "nice": false, "zero": false}, "axis": null},
"text": {"field": "label", "type": "nominal"}
}
}
]
},
{
"width": 2573, "height": 1271,
"data": {"name": "cells"},
"layer": [
{
"mark": {"type": "rect"},
"encoding": {
"x": {"field": "country", "type": "nominal", "scale": {"type": "band", "domain": ["All countries","Canada","USA","Argentina","Brazil","Chile","Colombia","Mexico","France","Germany","Italy","Norway","UK","Saudi Arabia","Türkiye","Kenya","Nigeria","South Africa","China","India","Indonesia","Japan","South Korea","Australia"], "paddingInner": 0, "paddingOuter": 0}, "axis": null},
"y": {"field": "policy", "type": "nominal", "scale": {"type": "band", "domain": ["Clean energy vs. coal","Subsidize clean energy companies","Limits on carbon emissions","Clean energy targets","Upgrade new buildings","Food and agriculture","Clean rebates and tax credits","Energy efficiency standards","Corporate transparency","Zero-pollution transportation","Regulate methane","Net zero economy","Taxes on polluters","Penalties on dirty imports","End fracking","Phase out oil extraction","Payments to Global South","End subsidies for polluters","Phase out fossil fuels"], "paddingInner": 0, "paddingOuter": 0}, "axis": null},
"color": {"field": "value", "type": "quantitative", "scale": {"type": "linear", "domain": [0.36, 0.675, 0.88], "range": ["#666666", "#ffffff", "#88daf6"], "interpolate": "rgb"}, "legend": null}
}
},
{
"mark": {"type": "text", "align": "left", "baseline": "middle", "dx": 11, "font": "Open Sans", "fontSize": 22, "color": "#3a3a3a"},
"encoding": {
"x": {"field": "country", "type": "nominal", "bandPosition": 0, "scale": {"type": "band", "domain": ["All countries","Canada","USA","Argentina","Brazil","Chile","Colombia","Mexico","France","Germany","Italy","Norway","UK","Saudi Arabia","Türkiye","Kenya","Nigeria","South Africa","China","India","Indonesia","Japan","South Korea","Australia"], "paddingInner": 0, "paddingOuter": 0}, "axis": null},
"y": {"field": "policy", "type": "nominal", "bandPosition": 0.374, "scale": {"type": "band", "domain": ["Clean energy vs. coal","Subsidize clean energy companies","Limits on carbon emissions","Clean energy targets","Upgrade new buildings","Food and agriculture","Clean rebates and tax credits","Energy efficiency standards","Corporate transparency","Zero-pollution transportation","Regulate methane","Net zero economy","Taxes on polluters","Penalties on dirty imports","End fracking","Phase out oil extraction","Payments to Global South","End subsidies for polluters","Phase out fossil fuels"], "paddingInner": 0, "paddingOuter": 0}, "axis": null},
"text": {"field": "value", "type": "quantitative", "format": ".0%"}
}
}
]
}
],
"spacing": 0,
"bounds": "flush"
}
],
"spacing": 0
},
{
"width": 3056, "height": 112,
"data": {"values": [{"text": "Potential Energy Coalition · Accelerating global climate action through a bigger “why” · November 2023"}]},
"mark": {"type": "text", "align": "right", "baseline": "middle", "font": "Lato", "fontSize": 29.5, "color": "#111111"},
"encoding": {
"x": {"datum": 1, "type": "quantitative", "scale": {"domain": [0, 1], "nice": false, "zero": false}, "axis": null},
"y": {"datum": 0.56, "type": "quantitative", "scale": {"domain": [0, 1], "nice": false, "zero": false}, "axis": null},
"text": {"field": "text", "type": "nominal"}
}
}
],
"spacing": 49
}
],
"spacing": 104.5
}
